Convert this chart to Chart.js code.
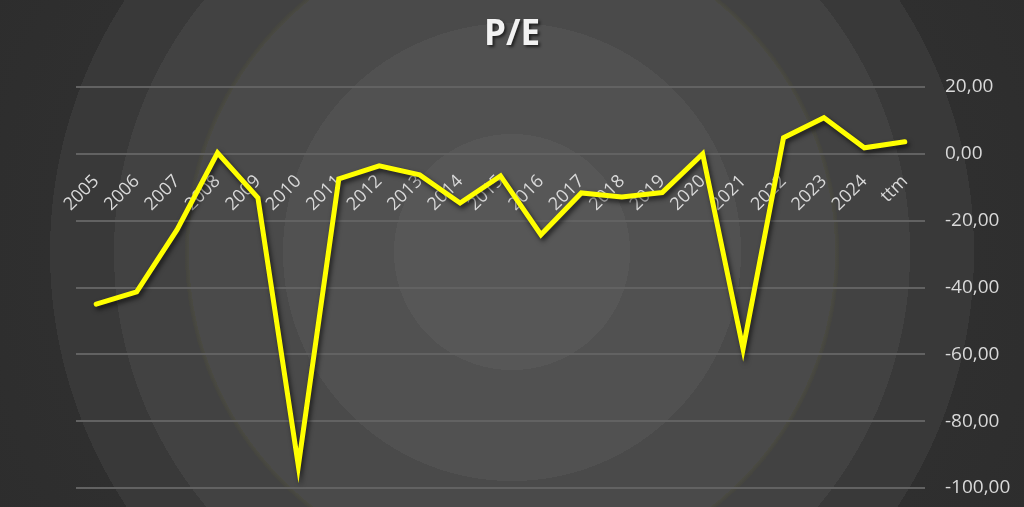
<!DOCTYPE html>
<html>
<head>
<meta charset="utf-8">
<script src="https://cdn.jsdelivr.net/npm/chart.js@4/dist/chart.umd.min.js"></script>
<style>
html,body{margin:0;padding:0;width:1024px;height:507px;overflow:hidden;}
body{
  background: radial-gradient(circle at 512px 252px,
    #575757 0px, #575757 118px,
    #515151 118px, #515151 229px,
    #4a4a4a 229px, #4a4a4a 323px,
    #4a4a42 323px, #44443f 327px,
    #424242 327px, #424242 398px,
    #393939 398px, #393939 462px,
    #2f2f2f 462px, #2b2b2b 700px);
}
#wrap{position:absolute;left:0;top:0;width:1024px;height:507px;}
</style>
</head>
<body>
<div id="wrap"><canvas id="c" width="1024" height="507"></canvas></div>
<script>
const categories = ["2005","2006","2007","2008","2009","2010","2011","2012","2013","2014","2015","2016","2017","2018","2019","2020","2021","2022","2023","2024","ttm"];
const peValues = [-45.0,-41.3,-22.7,0.3,-13.2,-93.4,-7.5,-3.6,-6.3,-14.7,-6.6,-24.2,-11.7,-12.9,-11.6,0.0,-58.4,4.8,10.8,1.8,3.6];
const yTicks = [20,0,-20,-40,-60,-80,-100];
const chartTitle = "P/E";

const fmt = v => v.toFixed(2).replace('.', ',');

const shadowPlugin = {
  id: 'shadows',
  beforeDatasetDraw(chart) {
    const ctx = chart.ctx;
    ctx.save();
    ctx.shadowColor = 'rgba(0,0,0,0.65)';
    ctx.shadowBlur = 5;
    ctx.shadowOffsetX = 2;
    ctx.shadowOffsetY = 3;
  },
  afterDatasetDraw(chart) { chart.ctx.restore(); },
  beforeDraw(chart) {
    const tb = chart.titleBlock;
    if (tb && !tb._wrapped) {
      const orig = tb.draw.bind(tb);
      tb.draw = function() {
        const ctx = chart.ctx;
        ctx.save();
        ctx.shadowColor = 'rgba(0,0,0,0.6)';
        ctx.shadowBlur = 3;
        ctx.shadowOffsetX = 2;
        ctx.shadowOffsetY = 2;
        orig();
        ctx.restore();
      };
      tb._wrapped = true;
    }
  }
};

new Chart(document.getElementById('c'), {
  type: 'line',
  data: {
    labels: categories,
    datasets: [{
      label: chartTitle,
      data: peValues,
      borderColor: '#ffff00',
      borderWidth: 5,
      pointRadius: 0,
      pointHoverRadius: 0,
      tension: 0,
      fill: false,
      borderCapStyle: 'round',
      yAxisID: 'y'
    }]
  },
  options: {
    responsive: false,
    animation: false,
    events: [],
    layout: { padding: { left: 0, right: 0, top: 0, bottom: 19 } },
    plugins: {
      legend: { display: false },
      tooltip: { enabled: false },
      title: {
        display: true,
        text: chartTitle,
        color: '#f2f2f2',
        font: { family: 'Open Sans', size: 35, weight: 'bold' },
        padding: { top: 14, bottom: 31 }
      }
    },
    scales: {
      x: {
        type: 'category',
        position: { y: 0 },
        offset: true,
        grid: { display: false, drawTicks: false },
        border: { display: false },
        ticks: {
          color: '#d9d9d9',
          font: { family: 'Open Sans', size: 18 },
          minRotation: 45,
          maxRotation: 45,
          autoSkip: false,
          padding: 17
        },
        afterFit(s) { s.height = 0; s.paddingLeft = 0; s.paddingRight = 0; }
      },
      y: {
        position: 'right',
        min: -100,
        max: 20,
        afterBuildTicks(s) { s.ticks = yTicks.map(v => ({ value: v })); },
        grid: { color: '#626262', lineWidth: 2, drawTicks: false },
        border: { display: false },
        ticks: {
          color: '#d9d9d9',
          font: { family: 'Open Sans', size: 19 },
          padding: 20,
          callback: v => fmt(v)
        },
        afterFit(s) { s.width = 99; s.paddingTop = 0; s.paddingBottom = 0; }
      },
      spacer: {
        type: 'linear',
        position: 'left',
        display: true,
        grid: { display: false, drawTicks: false },
        border: { display: false },
        ticks: { display: false },
        afterFit(s) { s.width = 76; s.paddingTop = 0; s.paddingBottom = 0; }
      }
    }
  },
  plugins: [shadowPlugin]
});
</script>
</body>
</html>
